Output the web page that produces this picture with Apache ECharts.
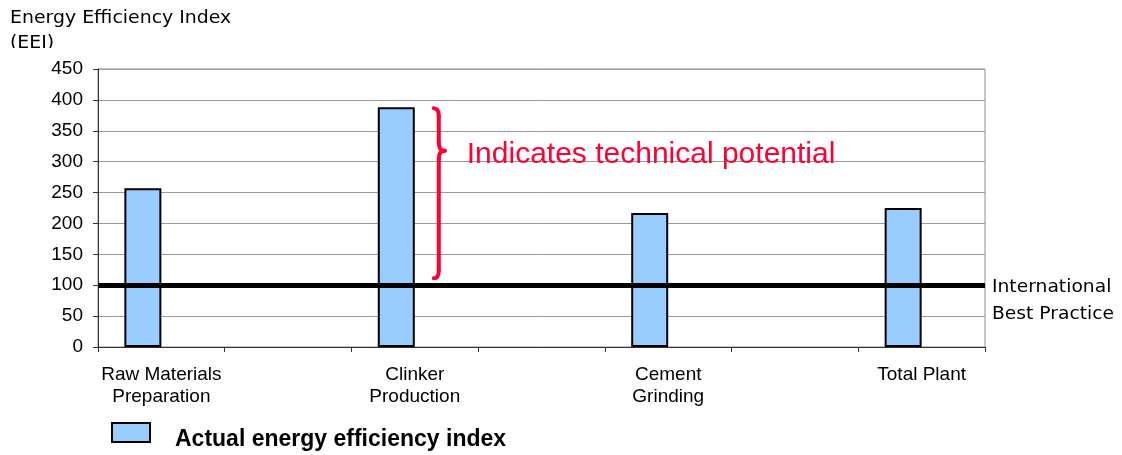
<!DOCTYPE html>
<html>
<head>
<meta charset="utf-8">
<script src="https://cdn.jsdelivr.net/npm/echarts@6/dist/echarts.min.js"></script>
<style>
  html, body { margin: 0; padding: 0; background: #fff; }
  #main { width: 1122px; height: 455px; }
</style>
</head>
<body>
<div id="main"></div>
<script>
// categories (blank slots keep the gaps between the process steps)
var categories = ['Raw Materials\nPreparation', '', 'Clinker\nProduction', '', 'Cement\nGrinding', '', 'Total Plant'];
var actualEEI = [257, null, 388, null, 217, null, 225];
var emptySlot = [null, null, null, null, null, null, null];
var bestPractice = 100;
var yTicks = [0, 50, 100, 150, 200, 250, 300, 350, 400, 450];
var seriesName = 'Actual energy efficiency index';

var chart = echarts.init(document.getElementById('main'));
var sideFont = '"DejaVu Sans", sans-serif';
var armFont = '"Liberation Sans", Arial, sans-serif';

var option = {
    animation: false,
    grid: {
        left: 98, right: 137, top: 69, bottom: 108,
        show: true, borderColor: '#8c8c8c', borderWidth: 1
    },
    legend: {
        // only the swatch; its label sits a little lower, drawn below
        data: [seriesName],
        left: 111, top: 422,
        padding: 0,
        icon: 'rect',
        itemWidth: 38, itemHeight: 19,
        formatter: function () { return ''; }
    },
    xAxis: {
        type: 'category',
        data: categories,
        boundaryGap: true,
        axisLine: { lineStyle: { color: '#333', width: 1 } },
        axisTick: { show: true, length: 5, lineStyle: { color: '#333' } },
        axisLabel: {
            interval: 0, margin: 17, color: '#000',
            fontFamily: armFont, fontSize: 19, lineHeight: 22
        },
        splitLine: { show: false }
    },
    yAxis: {
        type: 'value',
        min: yTicks[0], max: yTicks[yTicks.length - 1], interval: 50,
        axisLine: { show: true, lineStyle: { color: '#333', width: 1 } },
        axisTick: { show: true, length: 5, lineStyle: { color: '#333' } },
        axisLabel: {
            margin: 15, color: '#000',
            fontFamily: armFont, fontSize: 19
        },
        splitLine: { show: true, lineStyle: { color: '#9a9a9a', width: 1 } }
    },
    series: [
        {
            name: seriesName,
            type: 'bar',
            data: actualEEI,
            barWidth: 37,
            barGap: '0%',
            itemStyle: { color: '#99ccff', borderColor: '#000', borderWidth: 2 },
            markLine: {
                silent: true,
                symbol: 'none',
                label: { show: false },
                lineStyle: { color: '#000', width: 5, type: 'solid' },
                data: [{ yAxis: bestPractice }]
            },
            z: 2
        },
        {
            name: 'blank',
            type: 'bar',
            data: emptySlot,
            barWidth: 37,
            barGap: '0%'
        }
    ]
};
chart.setOption(option);

// annotations placed from the chart's own scales
var lineY = chart.convertToPixel({ yAxisIndex: 0 }, bestPractice);
var topY = chart.convertToPixel({ yAxisIndex: 0 }, actualEEI[2]);
var clinkerX = chart.convertToPixel({ xAxisIndex: 0 }, 2);
var bx = clinkerX + 23;   // brace spine, right of the clinker bar
var b0 = topY + 1, b1 = lineY - 7;
var tipY = b0 + (b1 - b0) * 0.25;
var red = '#ff0033';
var braceStyle = { stroke: red, lineWidth: 4, fill: null, lineCap: 'round' };

function curve(x1, y1, cx, cy, x2, y2) {
    return {
        type: 'bezierCurve', z: 10,
        shape: { x1: x1, y1: y1, cpx1: cx, cpy1: cy, x2: x2, y2: y2 },
        style: braceStyle
    };
}
function seg(x1, y1, x2, y2) {
    return {
        type: 'line', z: 10,
        shape: { x1: x1, y1: y1, x2: x2, y2: y2 },
        style: braceStyle
    };
}

chart.setOption({
    graphic: [
        {
            type: 'text', x: 10, y: 6, z: 1, scaleX: 1.05,
            style: {
                text: 'Energy Efficiency Index\n(EEI)',
                font: '18px ' + sideFont, lineHeight: 25, fill: '#000'
            }
        },
        {
            // the axis title is cut off just above the plot
            type: 'rect', z: 2,
            shape: { x: 0, y: 48, width: 300, height: 10 },
            style: { fill: '#fff' }
        },
        curve(bx - 4, b0, bx + 1, b0, bx + 1, b0 + 8),
        seg(bx + 1, b0 + 8, bx + 1, tipY - 8),
        curve(bx + 1, tipY - 8, bx + 1, tipY, bx + 7, tipY),
        curve(bx + 7, tipY, bx + 1, tipY, bx + 1, tipY + 8),
        seg(bx + 1, tipY + 8, bx + 1, b1 - 8),
        curve(bx + 1, b1 - 8, bx + 1, b1, bx - 4, b1),
        {
            type: 'text', z: 10,
            x: bx + 29, y: tipY - 11,
            style: {
                text: 'Indicates technical potential',
                font: '30px ' + armFont, fill: red
            }
        },
        {
            type: 'text', z: 10, scaleX: 1.1,
            x: 992, y: lineY - 11,
            style: {
                text: 'International\nBest Practice',
                font: '17px ' + sideFont, lineHeight: 27, fill: '#000'
            }
        },
        {
            type: 'rect', z: 11,
            shape: { x: 988, y: lineY + 35, width: 134, height: 14 },
            style: { fill: '#fff' }
        },
        {
            type: 'text', z: 10,
            x: 175, y: 440,
            style: {
                text: seriesName,
                font: 'bold 23px ' + armFont, fill: '#000',
                verticalAlign: 'middle'
            }
        }
    ]
});
</script>
</body>
</html>
